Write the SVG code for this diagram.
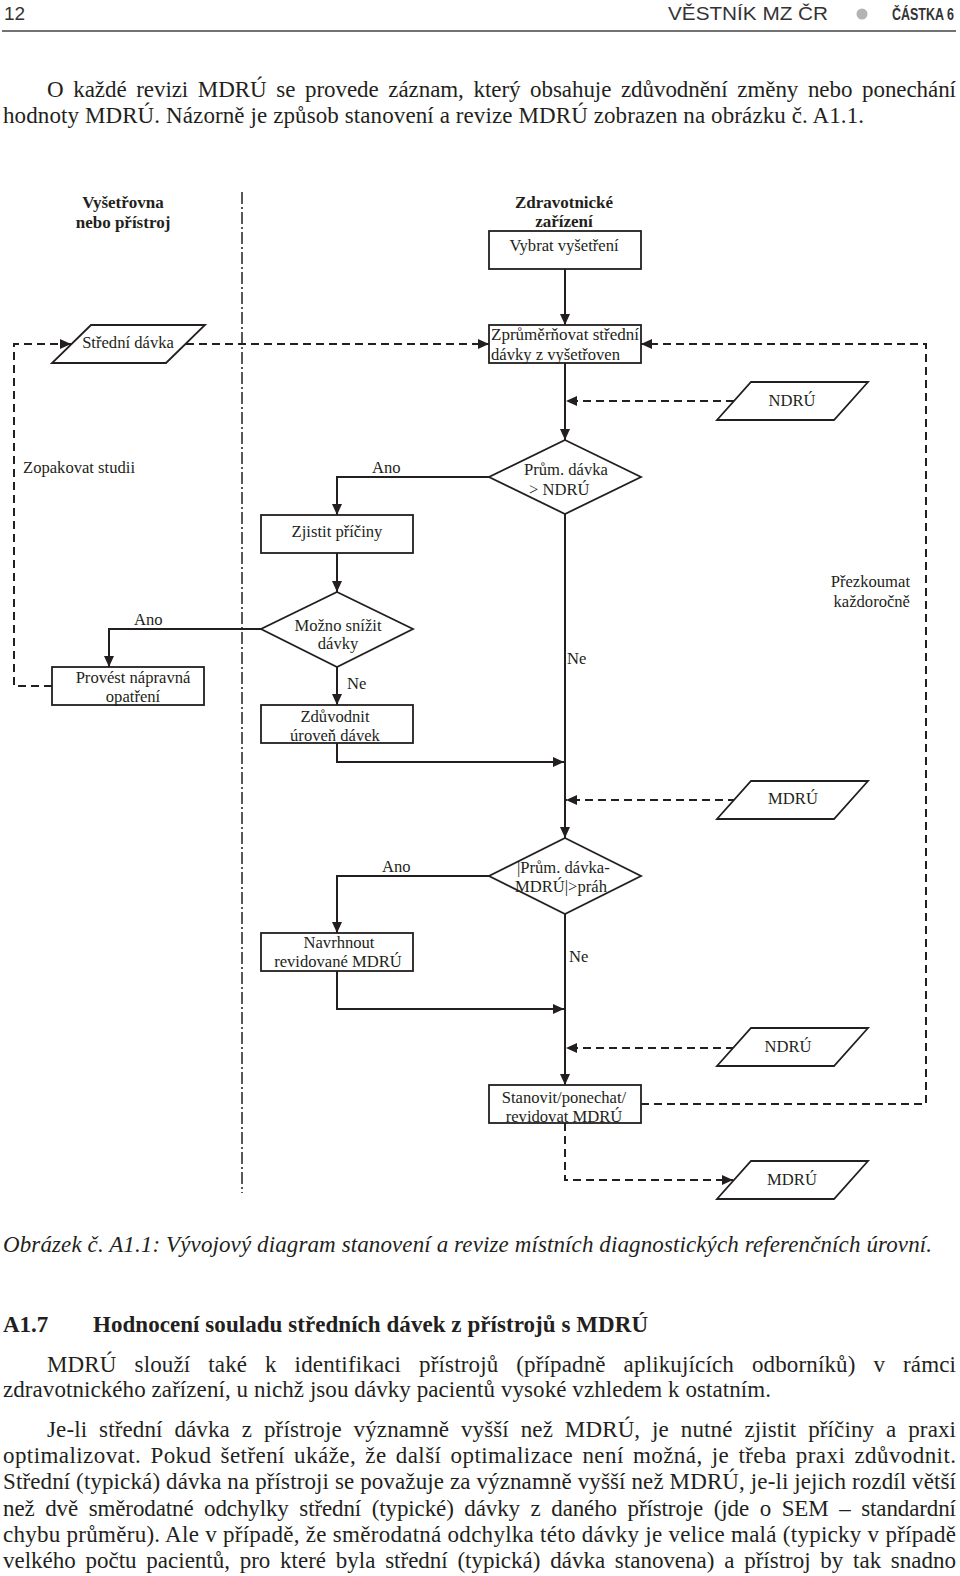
<svg xmlns="http://www.w3.org/2000/svg" width="960" height="1576" viewBox="0 0 960 1576">
<defs>
<style>
.box{fill:#fff;stroke:#231f20;stroke-width:1.8}
.conn{fill:none;stroke:#231f20;stroke-width:2}
.dash{stroke-dasharray:8 5}
.lane{fill:none;stroke:#231f20;stroke-width:1.5;stroke-dasharray:12 3 2 3}
.t{font-family:"Liberation Serif","Times New Roman",serif;font-size:16.6px;fill:#231f20}
.b{font-weight:bold;font-size:17px}
.c{text-anchor:middle}
.e{text-anchor:end}
.body{font-family:"Liberation Serif","Times New Roman",serif;font-size:23px;fill:#231f20}
.hdr{font-family:"Liberation Sans",Arial,sans-serif;fill:#333}
</style>
<marker id="ah" viewBox="0 0 11 10" refX="11" refY="5" markerWidth="11" markerHeight="10" markerUnits="userSpaceOnUse" orient="auto">
<path d="M0,0 L11,5 L0,10 z" fill="#231f20" stroke="none"/>
</marker>
</defs>
<rect width="960" height="1576" fill="#fff"/>

<g id="header">
<text class="hdr" x="4" y="20" font-size="19">12</text>
<text class="hdr" x="668" y="20" font-size="19" textLength="160" lengthAdjust="spacingAndGlyphs">VĚSTNÍK MZ ČR</text>
<circle cx="862" cy="14" r="5.5" fill="#b3b3b3"/>
<text class="hdr" x="892" y="20" font-size="17" font-weight="bold" textLength="62" lengthAdjust="spacingAndGlyphs">ČÁSTKA 6</text>
<line x1="2" y1="31" x2="956" y2="31" stroke="#444" stroke-width="1.5"/>
</g>

<g id="intro">
<text class="body" x="47" y="97" word-spacing="4" textLength="909" lengthAdjust="spacing">O každé revizi MDRÚ se provede záznam, který obsahuje zdůvodnění změny nebo ponechání</text>
<text class="body" x="3" y="123" textLength="861" lengthAdjust="spacing">hodnoty MDRÚ. Názorně je způsob stanovení a revize MDRÚ zobrazen na obrázku č. A1.1.</text>
</g>

<g id="lanes">
<line class="lane" x1="242" y1="192" x2="242" y2="1193"/>
<text class="t b c" x="123" y="208">Vyšetřovna</text>
<text class="t b c" x="123" y="228">nebo přístroj</text>
<text class="t b c" x="564" y="208">Zdravotnické</text>
<text class="t b c" x="564" y="227">zařízení</text>
</g>

<g id="connectors">
<path class="conn" d="M565,269 V325" marker-end="url(#ah)"/>
<path class="conn" d="M565,363 V440" marker-end="url(#ah)"/>
<path class="conn dash" d="M734,401 H566" marker-end="url(#ah)"/>
<path class="conn" d="M489,477 H337 V515" marker-end="url(#ah)"/>
<path class="conn" d="M337,553 V592" marker-end="url(#ah)"/>
<path class="conn" d="M261,629 H109 V667" marker-end="url(#ah)"/>
<path class="conn" d="M337,667 V705" marker-end="url(#ah)"/>
<path class="conn" d="M337,743 V762 H564" marker-end="url(#ah)"/>
<path class="conn" d="M565,514 V838" marker-end="url(#ah)"/>
<path class="conn dash" d="M736,800 H566" marker-end="url(#ah)"/>
<path class="conn" d="M489,876 H337 V933" marker-end="url(#ah)"/>
<path class="conn" d="M337,971 V1009 H564" marker-end="url(#ah)"/>
<path class="conn" d="M565,914 V1085" marker-end="url(#ah)"/>
<path class="conn dash" d="M734,1048 H566" marker-end="url(#ah)"/>
<path class="conn dash" d="M641,1104 H926 V344 H641" stroke-width="1.8" marker-end="url(#ah)"/>
<path class="conn dash" d="M52,686 H14 V344 H71" marker-end="url(#ah)"/>
<path class="conn dash" d="M186,344 H489" marker-end="url(#ah)"/>
<path class="conn dash" d="M565,1123 V1180 H733" marker-end="url(#ah)"/>
</g>

<g id="labels">
<text class="t" x="23" y="473">Zopakovat studii</text>
<text class="t" x="372" y="473">Ano</text>
<text class="t" x="134" y="625">Ano</text>
<text class="t" x="347" y="689">Ne</text>
<text class="t" x="567" y="664">Ne</text>
<text class="t e" x="910" y="587">Přezkoumat</text>
<text class="t e" x="910" y="607">každoročně</text>
<text class="t" x="382" y="872">Ano</text>
<text class="t" x="569" y="962">Ne</text>
</g>

<g id="n-vybrat">
<rect class="box" x="489" y="231" width="152" height="38"/>
<text class="t c" x="564" y="251">Vybrat vyšetření</text>
</g>

<g id="n-zprumernovat">
<text class="t" x="491" y="340" textLength="148" lengthAdjust="spacingAndGlyphs">Zprůměrňovat střední</text>
<text class="t" x="491" y="360">dávky z vyšetřoven</text>
<rect class="box" x="489" y="325" width="152" height="38" style="fill:none"/>
</g>

<g id="n-stredni-davka">
<polygon class="box" points="91,325 205,325 166,363 52,363"/>
<text class="t c" x="128" y="348">Střední dávka</text>
</g>

<g id="n-ndru1">
<polygon class="box" points="751,382 868,382 834,420 717,420"/>
<text class="t c" x="792" y="406">NDRÚ</text>
</g>

<g id="n-d1">
<polygon class="box" points="565,440 641,477 565,514 489,477"/>
<text class="t c" x="566" y="475">Prům. dávka</text>
<text class="t" x="529" y="495">&gt; NDRÚ</text>
</g>

<g id="n-zjistit">
<rect class="box" x="261" y="515" width="152" height="38"/>
<text class="t c" x="337" y="537">Zjistit příčiny</text>
</g>

<g id="n-d2">
<polygon class="box" points="337,592 413,629 337,667 261,629"/>
<text class="t c" x="338" y="631">Možno snížit</text>
<text class="t c" x="338" y="649">dávky</text>
</g>

<g id="n-provest">
<rect class="box" x="52" y="667" width="152" height="38"/>
<text class="t c" x="133" y="683">Provést nápravná</text>
<text class="t c" x="133" y="702">opatření</text>
</g>

<g id="n-zduvodnit">
<text class="t c" x="335" y="722">Zdůvodnit</text>
<text class="t c" x="335" y="741">úroveň dávek</text>
<rect class="box" x="261" y="705" width="152" height="38" style="fill:none"/>
</g>

<g id="n-mdru2">
<polygon class="box" points="751,781 868,781 834,819 717,819"/>
<text class="t c" x="793" y="804">MDRÚ</text>
</g>

<g id="n-d3">
<polygon class="box" points="565,838 641,876 565,914 489,876"/>
<text class="t" x="517" y="873">|Prům. dávka-</text>
<text class="t" x="515" y="892">MDRÚ|&gt;práh</text>
</g>

<g id="n-navrhnout">
<rect class="box" x="261" y="933" width="152" height="38"/>
<text class="t c" x="339" y="948">Navrhnout</text>
<text class="t c" x="338" y="967">revidované MDRÚ</text>
</g>

<g id="n-ndru3">
<polygon class="box" points="751,1028 868,1028 834,1066 717,1066"/>
<text class="t c" x="788" y="1052">NDRÚ</text>
</g>

<g id="n-stanovit">
<text class="t c" x="564" y="1103">Stanovit/ponechat/</text>
<text class="t c" x="564" y="1122">revidovat MDRÚ</text>
<rect class="box" x="489" y="1085" width="152" height="38" style="fill:none"/>
</g>

<g id="n-mdru4">
<polygon class="box" points="751,1161 868,1161 834,1199 717,1199"/>
<text class="t c" x="792" y="1185">MDRÚ</text>
</g>

<g id="body-text">
<text class="body" x="3" y="1252" font-style="italic" textLength="929" lengthAdjust="spacing">Obrázek č. A1.1: Vývojový diagram stanovení a revize místních diagnostických referenčních úrovní.</text>
<text class="body" x="3" y="1332" font-weight="bold">A1.7</text>
<text class="body" x="93" y="1332" font-weight="bold" textLength="555" lengthAdjust="spacing">Hodnocení souladu středních dávek z přístrojů s MDRÚ</text>
<text class="body" x="47" y="1372" word-spacing="12" textLength="909" lengthAdjust="spacing">MDRÚ slouží také k identifikaci přístrojů (případně aplikujících odborníků) v rámci</text>
<text class="body" x="3" y="1397" textLength="768" lengthAdjust="spacing">zdravotnického zařízení, u nichž jsou dávky pacientů vysoké vzhledem k ostatním.</text>
<text class="body" x="47" y="1437" word-spacing="6" textLength="909" lengthAdjust="spacing">Je-li střední dávka z přístroje významně vyšší než MDRÚ, je nutné zjistit příčiny a praxi</text>
<text class="body" x="3" y="1463" word-spacing="3" textLength="953" lengthAdjust="spacing">optimalizovat. Pokud šetření ukáže, že další optimalizace není možná, je třeba praxi zdůvodnit.</text>
<text class="body" x="3" y="1489" textLength="953" lengthAdjust="spacing">Střední (typická) dávka na přístroji se považuje za významně vyšší než MDRÚ, je-li jejich rozdíl větší</text>
<text class="body" x="3" y="1516" word-spacing="5" textLength="953" lengthAdjust="spacing">než dvě směrodatné odchylky střední (typické) dávky z daného přístroje (jde o SEM – standardní</text>
<text class="body" x="3" y="1542" textLength="953" lengthAdjust="spacing">chybu průměru). Ale v případě, že směrodatná odchylka této dávky je velice malá (typicky v případě</text>
<text class="body" x="3" y="1568" word-spacing="4" textLength="953" lengthAdjust="spacing">velkého počtu pacientů, pro které byla střední (typická) dávka stanovena) a přístroj by tak snadno</text>
</g>
</svg>
